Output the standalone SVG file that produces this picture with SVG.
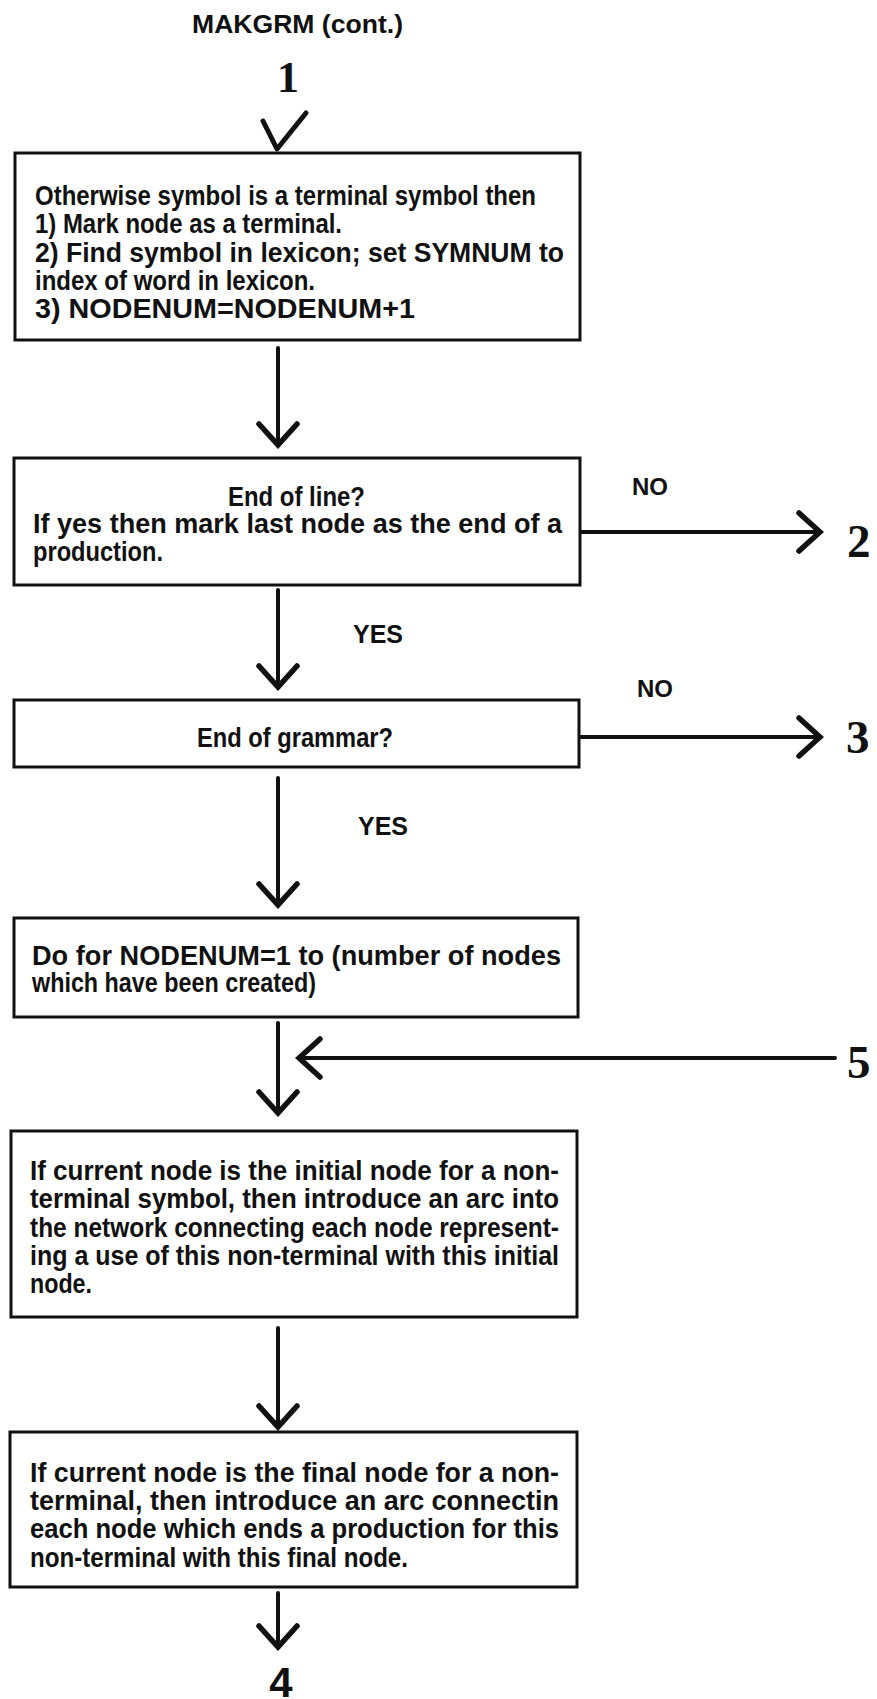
<svg xmlns="http://www.w3.org/2000/svg" width="877" height="1699" viewBox="0 0 877 1699">
<style>
.bg{fill:#ffffff}
.box{fill:none;stroke:#111;stroke-width:3}
.t{font-family:"Liberation Sans",Arial,sans-serif;font-weight:bold;font-size:27px;fill:#111}
.lbl{font-family:"Liberation Sans",Arial,sans-serif;font-weight:bold;font-size:25px;fill:#111}
.num{font-family:"Liberation Serif","Times New Roman",serif;font-weight:bold;font-size:47px;fill:#111}
.ln{fill:none;stroke:#111;stroke-width:4;stroke-linecap:round;stroke-linejoin:round}
</style>
<defs>
<marker id="ah" markerUnits="userSpaceOnUse" viewBox="-26 -24 30 48" markerWidth="30" markerHeight="48" refX="0" refY="0" orient="auto">
<path d="M-21,-19 L0,0 L-21,19" fill="none" stroke="#111" stroke-width="5.5" stroke-linecap="round" stroke-linejoin="miter"/>
</marker>
</defs>
<rect class="bg" x="0" y="0" width="877" height="1699"/>

<g id="title">
<text class="lbl" x="192" y="33" textLength="211" lengthAdjust="spacingAndGlyphs" style="font-size:26px">MAKGRM (cont.)</text>
</g>

<g id="connector-1">
<text class="num" x="288" y="92" text-anchor="middle" style="font-size:44px">1</text>
</g>

<g id="box-terminal">
<rect class="box" x="15" y="153" width="565" height="187"/>
<text class="t" x="35" y="205" textLength="501" lengthAdjust="spacingAndGlyphs">Otherwise symbol is a terminal symbol then</text>
<text class="t" x="35" y="233" textLength="307" lengthAdjust="spacingAndGlyphs">1) Mark node as a terminal.</text>
<text class="t" x="35" y="262" textLength="529" lengthAdjust="spacingAndGlyphs">2) Find symbol in lexicon; set SYMNUM to</text>
<text class="t" x="35" y="290" textLength="280" lengthAdjust="spacingAndGlyphs">index of word in lexicon.</text>
<text class="t" x="35" y="318" textLength="380" lengthAdjust="spacingAndGlyphs">3) NODENUM=NODENUM+1</text>
</g>

<g id="box-end-of-line">
<rect class="box" x="14" y="458" width="566" height="127"/>
<text class="t" x="228" y="506" textLength="137" lengthAdjust="spacingAndGlyphs">End of line?</text>
<text class="t" x="33" y="533" textLength="529" lengthAdjust="spacingAndGlyphs">If yes then mark last node as the end of a</text>
<text class="t" x="33" y="561" textLength="130" lengthAdjust="spacingAndGlyphs">production.</text>
</g>

<g id="box-end-of-grammar">
<rect class="box" x="14" y="700" width="565" height="67"/>
<text class="t" x="197" y="747" textLength="196" lengthAdjust="spacingAndGlyphs">End of grammar?</text>
</g>

<g id="box-do-for">
<rect class="box" x="14" y="918" width="564" height="99"/>
<text class="t" x="32" y="965" textLength="529" lengthAdjust="spacingAndGlyphs">Do for NODENUM=1 to (number of nodes</text>
<text class="t" x="32" y="992" textLength="284" lengthAdjust="spacingAndGlyphs">which have been created)</text>
</g>

<g id="box-initial-node">
<rect class="box" x="11" y="1131" width="566" height="186"/>
<text class="t" x="30" y="1180" textLength="529" lengthAdjust="spacingAndGlyphs">If current node is the initial node for a non-</text>
<text class="t" x="30" y="1208" textLength="529" lengthAdjust="spacingAndGlyphs">terminal symbol, then introduce an arc into</text>
<text class="t" x="30" y="1237" textLength="529" lengthAdjust="spacingAndGlyphs">the network connecting each node represent-</text>
<text class="t" x="30" y="1265" textLength="529" lengthAdjust="spacingAndGlyphs">ing a use of this non-terminal with this initial</text>
<text class="t" x="30" y="1293" textLength="62" lengthAdjust="spacingAndGlyphs">node.</text>
</g>

<g id="box-final-node">
<rect class="box" x="10" y="1432" width="567" height="155"/>
<text class="t" x="30" y="1482" textLength="529" lengthAdjust="spacingAndGlyphs">If current node is the final node for a non-</text>
<text class="t" x="30" y="1510" textLength="529" lengthAdjust="spacingAndGlyphs">terminal, then introduce an arc connectin</text>
<text class="t" x="30" y="1538" textLength="529" lengthAdjust="spacingAndGlyphs">each node which ends a production for this</text>
<text class="t" x="30" y="1567" textLength="378" lengthAdjust="spacingAndGlyphs">non-terminal with this final node.</text>
</g>

<g id="connector-2">
<text class="num" x="847" y="557">2</text>
</g>
<g id="connector-3">
<text class="num" x="846" y="753">3</text>
</g>
<g id="connector-5">
<text class="num" x="847" y="1078">5</text>
</g>
<g id="connector-4">
<text class="lbl" x="281" y="1697" text-anchor="middle" style="font-size:42px">4</text>
</g>

<g id="connectors">
<path class="ln" d="M263,121 L277,149 L306,113" style="stroke-width:5"/>
<line class="ln" x1="278" y1="348" x2="278" y2="445" marker-end="url(#ah)"/>
<line class="ln" x1="278" y1="590" x2="278" y2="687" marker-end="url(#ah)"/>
<line class="ln" x1="278" y1="778" x2="278" y2="905" marker-end="url(#ah)"/>
<line class="ln" x1="278" y1="1023" x2="278" y2="1113" marker-end="url(#ah)"/>
<line class="ln" x1="278" y1="1328" x2="278" y2="1427" marker-end="url(#ah)"/>
<line class="ln" x1="278" y1="1593" x2="278" y2="1647" marker-end="url(#ah)"/>
<line class="ln" x1="581" y1="532" x2="820" y2="532" marker-end="url(#ah)"/>
<line class="ln" x1="580" y1="737" x2="820" y2="737" marker-end="url(#ah)"/>
<line class="ln" x1="835" y1="1058" x2="299" y2="1058" marker-end="url(#ah)"/>
<text class="lbl" x="632" y="495" style="font-size:24px">NO</text>
<text class="lbl" x="637" y="697" style="font-size:24px">NO</text>
<text class="lbl" x="353" y="643">YES</text>
<text class="lbl" x="358" y="835">YES</text>
</g>
</svg>
